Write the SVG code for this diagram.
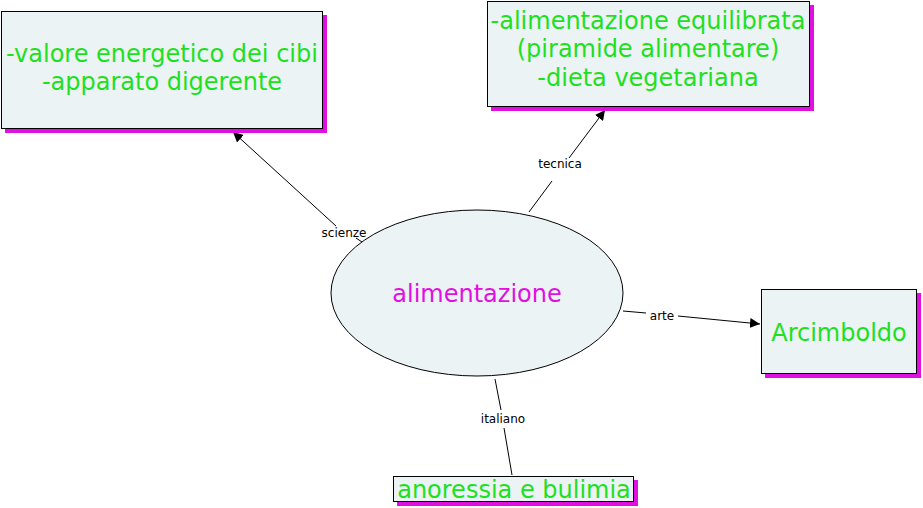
<svg xmlns="http://www.w3.org/2000/svg" width="923" height="508" viewBox="0 0 923 508">
<defs>
<style>
.box{fill:#ecf3f5;stroke:#000;stroke-width:1}
.sh{fill:#e010e0}
.t{font-family:"DejaVu Sans",Verdana,sans-serif;font-size:24px;fill:#1ee01e;text-anchor:middle}
.lab{font-family:"DejaVu Sans",Verdana,sans-serif;font-size:12px;fill:#000;text-anchor:middle}
.ln{stroke:#000;stroke-width:1;fill:none}
</style>
<marker id="ah" viewBox="0 0 10 10" refX="10" refY="5" markerWidth="10" markerHeight="10" markerUnits="userSpaceOnUse" orient="auto">
<path d="M0,0 L10,5 L0,10 z" fill="#000"/>
</marker>
</defs>
<rect width="923" height="508" fill="#fff"/>
<g id="connectors">
<line class="ln" x1="336" y1="226" x2="233" y2="132" marker-end="url(#ah)"/>
<line class="ln" x1="362" y1="242" x2="356" y2="238"/>
<text class="lab" x="344" y="237">scienze</text>
<line class="ln" x1="529" y1="212" x2="552" y2="181"/>
<line class="ln" x1="569" y1="158" x2="605" y2="110" marker-end="url(#ah)"/>
<text class="lab" x="560" y="168">tecnica</text>
<line class="ln" x1="623" y1="311" x2="646" y2="313"/>
<line class="ln" x1="678" y1="316" x2="760" y2="324" marker-end="url(#ah)"/>
<text class="lab" x="662" y="320">arte</text>
<line class="ln" x1="495" y1="379" x2="501" y2="410"/>
<line class="ln" x1="504" y1="428" x2="512" y2="475"/>
<text class="lab" x="503" y="423">italiano</text>
</g>
<g id="n1">
<rect class="sh" x="5" y="15" width="322" height="118"/>
<rect class="box" x="1.5" y="11.5" width="321" height="117"/>
<text class="t" x="162" y="62">-valore energetico dei cibi</text>
<text class="t" x="162" y="90">-apparato digerente</text>
</g>
<g id="n2">
<rect class="sh" x="491" y="5" width="323" height="106"/>
<rect class="box" x="487.5" y="1.5" width="322" height="105"/>
<text class="t" x="648" y="29">-alimentazione equilibrata</text>
<text class="t" x="648" y="57">(piramide alimentare)</text>
<text class="t" x="648" y="86">-dieta vegetariana</text>
</g>
<g id="center">
<ellipse cx="477" cy="293" rx="146" ry="83" fill="#ecf3f5" stroke="#000" stroke-width="1"/>
<text class="t" x="477" y="302" style="fill:#e010e0">alimentazione</text>
</g>
<g id="n3">
<rect class="sh" x="765" y="293" width="156" height="85"/>
<rect class="box" x="761.5" y="289.5" width="155" height="84"/>
<text class="t" x="839" y="341">Arcimboldo</text>
</g>
<g id="n4">
<rect class="sh" x="397" y="480" width="241" height="26"/>
<rect class="box" x="393.5" y="476.5" width="240" height="25"/>
<text class="t" x="514" y="498">anoressia e bulimia</text>
</g>
</svg>
